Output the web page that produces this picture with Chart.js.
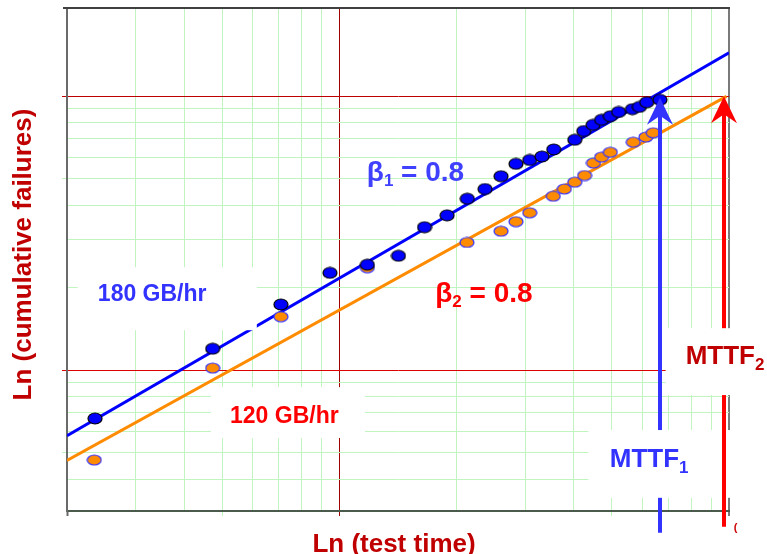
<!DOCTYPE html>
<html><head><meta charset="utf-8">
<script src="https://cdn.jsdelivr.net/npm/chart.js@4.4.1/dist/chart.umd.min.js"></script>
<style>html,body{margin:0;padding:0;background:#fff;overflow:hidden}canvas{display:block}</style>
</head><body>
<canvas id="c" width="767" height="554"></canvas>
<script>
// ---- data (x = test time, y = cumulative failures) ----
const blueTime = [23.6,47.3,70.8,94.6,118,141.8,165.4,189,213,236.5,260,284,308,331,355,402,424,448,471,496,521,565,589,615,665];
const blueFail = [6.68,12.0,17.4,22.7,24.3,26.2,33.3,36.8,42.3,45.9,51.1,56.7,58.6,60.3,64.0,69.4,74.7,78.7,82.1,84.6,87.7,89.8,91.5,95.1,97.1];
const orangeTime = [23.5,47.3,70.8,118,212.6,260,284,308,354,378,402,426,449,471,496,568,612,639];
const orangeFail = [4.71,10.2,15.7,23.7,29.3,32.2,34.9,37.6,43.2,45.9,48.6,51.4,57.1,60.0,62.5,68.0,71.0,73.6];
const blueFitTime = [20, 1000];
const blueFitFail = [5.78, 144.2];
const orangeFitTime = [20, 985];
const orangeFitFail = [4.69, 100];
const xTicks = [20,30,40,50,60,70,80,90,100,200,300,400,500,600,700,800,900,1000];
const yTicks = [4,5,6,7,8,9,10,20,30,40,50,60,70,80,90,100];
const xMarked = [20,50,100,500,1000];
const yMarked = [5,10,50,100];
// MTTF arrows: [MTTF1 (180 GB/hr), MTTF2 (120 GB/hr)]
const mttfTime = [665, 970.8];
const mttfTop = [98.9, 100];
const mttfBottom = [2.556, 2.687];

// ---- styling ----
const GREEN = '#c0f5c0';
const FONT = '"Liberation Sans", Arial, sans-serif';

function ellipseImg(w, h, fill, stroke) {
  const c = document.createElement('canvas');
  c.width = w + 2; c.height = h + 2;
  const g = c.getContext('2d');
  g.beginPath();
  g.ellipse((w + 2) / 2, (h + 2) / 2, w / 2, h / 2, 0, 0, Math.PI * 2);
  g.fillStyle = fill; g.fill();
  g.lineWidth = 1.2; g.strokeStyle = stroke; g.stroke();
  return c;
}
const bluePt = ellipseImg(14, 11, '#0000ff', '#000000');
const orangePt = ellipseImg(14, 10, '#ff8c00', '#3333ff');

const pts = (xs, ys) => xs.map((x, i) => ({x, y: ys[i]}));

// annotation placements (in data units)
const boxes = [
  {x: [21.3, 61.4], y: [14.02, 23.78]},   // 180 GB/hr
  {x: [46.8, 116.4], y: [5.67, 8.69]},    // 120 GB/hr
  {x: [435.8, 1104], y: [3.43, 6.06]}     // MTTF1
];
const box2 = {x: [687.7, 1258], y: [8.13, 14.26]}; // MTTF2
const labels = [
  {x: 117.6, y: 49.0, color: '#4040ff', parts: [['β', 28, 0], ['1', 17, 5], [' = 0.8', 28, 0]]},
  {x: 24.0, y: 17.93, color: '#3333ff', parts: [['180 GB/hr', 23, 0]]},
  {x: 176.2, y: 17.78, color: '#ff0000', parts: [['β', 28, 0], ['2', 17, 5], [' = 0.8', 28, 0]]},
  {x: 52.4, y: 6.41, color: '#ff0000', parts: [['120 GB/hr', 23, 0]]},
  {x: 494.4, y: 4.457, color: '#3333ff', parts: [['MTTF', 26, 0], ['1', 17, 6]]}
];
const label2 = {x: 774, y: 10.54, color: '#c00000', parts: [['MTTF', 26, 0], ['2', 17, 6]]};
const stray = {x: 1028, y: 2.6, color: '#cc0000', parts: [['(', 11, 0]]};

function drawLabel(ctx, xs, ys, L) {
  let px = xs.getPixelForValue(L.x);
  const py = ys.getPixelForValue(L.y);
  ctx.fillStyle = L.color;
  ctx.textBaseline = 'alphabetic';
  ctx.textAlign = 'left';
  for (const [t, size, dy] of L.parts) {
    ctx.font = 'bold ' + size + 'px ' + FONT;
    ctx.fillText(t, px, py + dy);
    px += ctx.measureText(t).width;
  }
}
function drawBox(ctx, xs, ys, B) {
  const x0 = xs.getPixelForValue(B.x[0]), x1 = xs.getPixelForValue(B.x[1]);
  const y0 = ys.getPixelForValue(B.y[1]), y1 = ys.getPixelForValue(B.y[0]);
  ctx.fillStyle = '#ffffff';
  ctx.fillRect(x0, y0, x1 - x0, y1 - y0);
}
function drawArrow(ctx, xs, ys, i, color) {
  const x = Math.round(xs.getPixelForValue(mttfTime[i]));
  const yt = ys.getPixelForValue(mttfTop[i]);
  const yb = ys.getPixelForValue(mttfBottom[i]);
  const headLen = 27, half = 13, notch = 9;
  ctx.strokeStyle = color; ctx.lineWidth = 4; ctx.lineCap = 'butt';
  ctx.beginPath(); ctx.moveTo(x, yb); ctx.lineTo(x, yt + headLen - notch - 1); ctx.stroke();
  ctx.fillStyle = color;
  ctx.beginPath();
  ctx.moveTo(x, yt);
  ctx.lineTo(x + half, yt + headLen);
  ctx.lineTo(x, yt + headLen - notch);
  ctx.lineTo(x - half, yt + headLen);
  ctx.closePath(); ctx.fill();
}

const annot = {
  id: 'annot',
  beforeDatasetsDraw(chart) {
    const {ctx, chartArea: a} = chart;
    ctx.save();
    ctx.strokeStyle = '#404040'; ctx.lineWidth = 2;
    ctx.beginPath(); ctx.moveTo(a.left - 4, a.top); ctx.lineTo(a.right + 1, a.top); ctx.stroke();
    ctx.restore();
  },
  afterDatasetsDraw(chart) {
    const {ctx, chartArea: a} = chart;
    const xs = chart.scales.x, ys = chart.scales.y;
    ctx.save();
    drawArrow(ctx, xs, ys, 0, '#3333ff');
    boxes.forEach(b => drawBox(ctx, xs, ys, b));
    drawArrow(ctx, xs, ys, 1, '#ff0000');
    drawBox(ctx, xs, ys, box2);
    labels.forEach(L => drawLabel(ctx, xs, ys, L));
    drawLabel(ctx, xs, ys, label2);
    drawLabel(ctx, xs, ys, stray);
    // axis titles
    ctx.fillStyle = '#c00000';
    ctx.font = 'bold 26px ' + FONT;
    ctx.textAlign = 'center'; ctx.textBaseline = 'alphabetic';
    ctx.fillText('Ln (test time)', (a.left + a.right) / 2 - 4, 552);
    ctx.translate(31, (a.top + a.bottom) / 2 - 5);
    ctx.rotate(-Math.PI / 2);
    ctx.fillText('Ln (cumulative failures)', 0, 0);
    ctx.restore();
  }
};

const xGridColor = v => v === 100 ? '#a00000' : v === 1000 ? '#7a7a7a' : v === 20 ? 'rgba(0,0,0,0)' : GREEN;
const xTickColor = v => !xMarked.includes(v) ? 'rgba(0,0,0,0)' : v === 100 ? '#a00000' : (v === 20 ? '#6a6a6a' : v === 1000 ? '#7a7a7a' : GREEN);
const yGridColor = v => v === 100 ? '#c00000' : v === 10 ? '#dd0000' : GREEN;
const yTickColor = v => !yMarked.includes(v) ? 'rgba(0,0,0,0)' : v === 100 ? '#c00000' : v === 10 ? '#dd0000' : GREEN;

new Chart(document.getElementById('c'), {
  data: {
    datasets: [
      {type: 'scatter', label: '180 GB/hr', data: pts(blueTime, blueFail), pointStyle: bluePt, pointRadius: 7, order: 1},
      {type: 'scatter', label: '120 GB/hr', data: pts(orangeTime, orangeFail), pointStyle: orangePt, pointRadius: 7, order: 2},
      {type: 'line', label: 'fit 180', data: pts(blueFitTime, blueFitFail), borderColor: '#0000ff', borderWidth: 3, pointRadius: 0, fill: false, order: 3},
      {type: 'line', label: 'fit 120', data: pts(orangeFitTime, orangeFitFail), borderColor: '#ff8c00', borderWidth: 3, pointRadius: 0, fill: false, order: 4}
    ]
  },
  options: {
    responsive: false,
    devicePixelRatio: 1,
    animation: false,
    layout: {padding: {top: 7, right: 38, left: 0, bottom: 0}},
    plugins: {legend: {display: false}, tooltip: {enabled: false}},
    scales: {
      x: {
        type: 'logarithmic', position: 'bottom', min: 20, max: 1000,
        afterBuildTicks: s => { s.ticks = xTicks.map(v => ({value: v})); },
        afterFit: s => { s.height = 43; },
        ticks: {display: false},
        grid: {
          color: c => xGridColor(c.tick.value),
          lineWidth: c => c.tick.value === 1000 ? 2 : 1,
          tickLength: 5,
          tickColor: c => xTickColor(c.tick.value),
          tickWidth: c => (c.tick.value === 20 || c.tick.value === 1000) ? 2 : 1
        },
        border: {display: true, color: '#4b5b4b', width: 2}
      },
      y: {
        type: 'logarithmic', position: 'left', min: 3.07, max: 210,
        afterBuildTicks: s => { s.ticks = yTicks.map(v => ({value: v})); },
        afterFit: s => { s.width = 67; },
        ticks: {display: false},
        grid: {
          color: c => yGridColor(c.tick.value),
          lineWidth: 1,
          tickLength: 5,
          tickColor: c => yTickColor(c.tick.value)
        },
        border: {display: true, color: '#6a6a6a', width: 2}
      }
    }
  },
  plugins: [annot]
});
</script>
</body></html>
